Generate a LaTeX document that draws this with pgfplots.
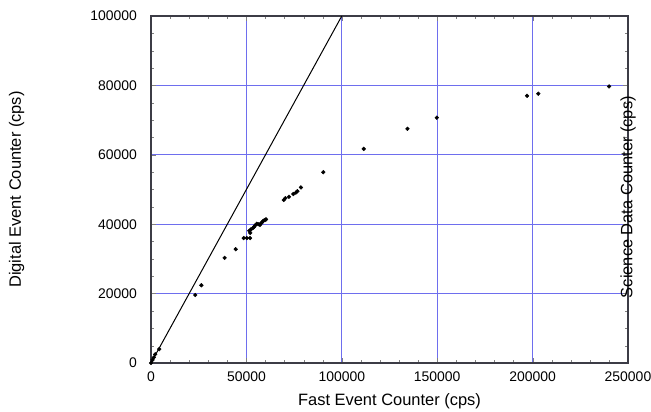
\documentclass[border=0pt]{standalone}
\usepackage{pgfplots}
\pgfplotsset{compat=1.18}
\usepackage{fontspec}
\setmainfont{Liberation Sans}
\definecolor{gridblue}{RGB}{110,110,238}
\definecolor{axisgray}{RGB}{60,60,70}
\begin{document}
\begin{tikzpicture}
\path[use as bounding box] (-151bp,-49bp) rectangle (500bp,363bp);
\begin{axis}[
  scale only axis,
  width=477bp, height=347bp,
  xmin=0, xmax=250000, ymin=0, ymax=100000,
  xtick={0,50000,100000,150000,200000,250000},
  ytick={0,20000,40000,60000,80000,100000},
  minor x tick num=4, minor y tick num=3,
  xtick pos=both, ytick pos=both,
  tick align=inside,
  major tick length=5bp, minor tick length=3bp,
  scaled ticks=false,
  /pgf/number format/1000 sep={},
  /pgf/number format/fixed,
  /pgf/number format/assume math mode=true,
  tick label style={font=\fontsize{14}{16}\selectfont},
  xticklabel style={anchor=north, inner sep=0pt, yshift=-9bp},
  yticklabel style={anchor=east, inner sep=0pt, xshift=-14bp},
  xmajorgrids, ymajorgrids,
  major grid style={draw=gridblue, line width=1.3bp},
  axis line style={draw=axisgray, line width=1.2bp},
  clip=false,
]
\addplot[black, line width=1bp, no marks] coordinates {(0,0) (100000,100000)};
\addplot[only marks, mark=*, mark size=1.9bp, black] coordinates {
(0,0) (800,900) (1500,1600) (2200,2500) (4300,4000)
(23200,19600) (26400,22400) (38600,30300) (44400,32800)
(48600,36000) (50200,36000) (51900,36000)
(51500,38100) (52000,37500) (52400,38500) (53600,39000) (54000,39200)
(54500,39600) (55400,40100) (56200,40000) (57100,39800) (57500,40200)
(58000,40400) (58600,40800) (59000,41000) (59800,41200) (60300,41400)
(69600,47000) (70400,47500) (72300,47900) (74600,48700) (75900,49100)
(76700,49500) (78600,50600) (90300,55000) (111500,61700)
(134400,67500) (149800,70700) (197100,77000) (203000,77600) (240100,79700)
};
\node[anchor=base, font=\fontsize{16.5}{18}\selectfont] at ([yshift=-42bp]rel axis cs:0.5,0) {Fast Event Counter (cps)};
\node[anchor=base, rotate=90, font=\fontsize{16.5}{18}\selectfont] at ([xshift=-130bp]rel axis cs:0,0.5) {Digital Event Counter (cps)};
\node[anchor=center, rotate=90, font=\fontsize{16.5}{18}\selectfont] at (axis cs:250000,47800) {Science Data Counter (cps)};
\end{axis}
\end{tikzpicture}
\end{document}
